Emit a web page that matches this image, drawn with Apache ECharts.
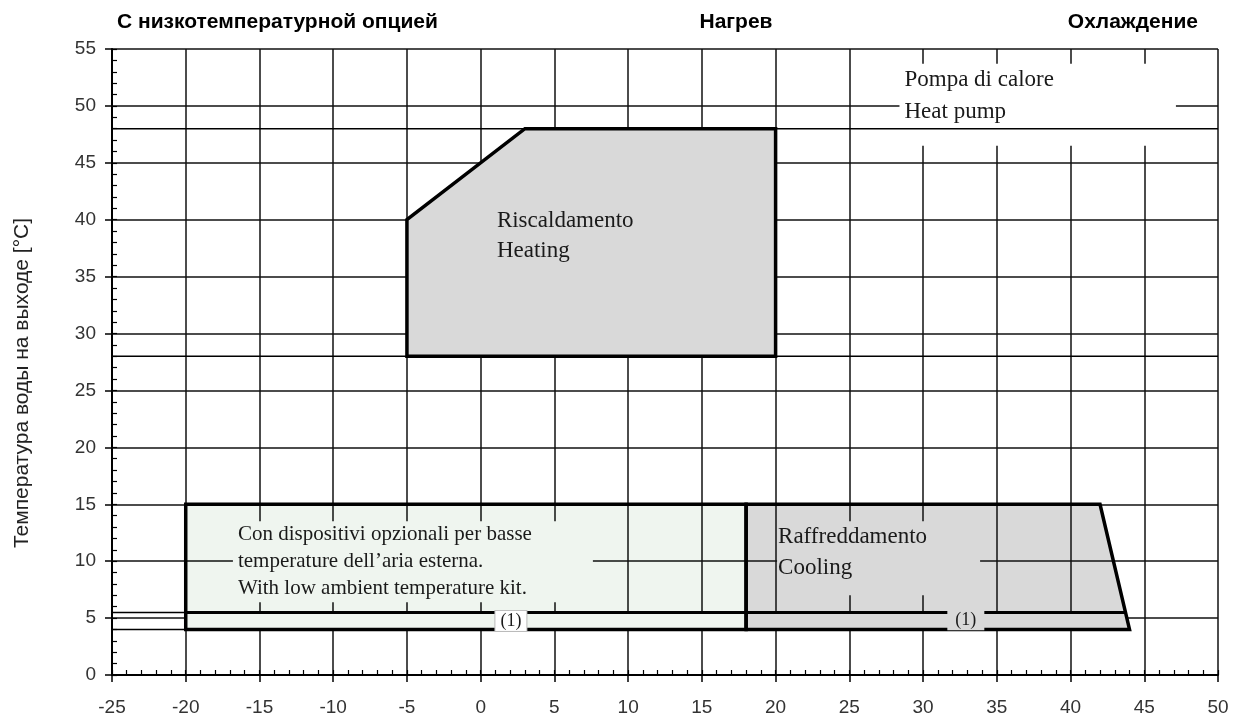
<!DOCTYPE html>
<html>
<head>
<meta charset="utf-8">
<title>Рабочий диапазон теплового насоса</title>
<script src="https://cdn.jsdelivr.net/npm/echarts@6/dist/echarts.min.js"></script>
<style>
  html, body { margin: 0; padding: 0; background: #fff; }
  #chart { width: 1234px; height: 720px; }
</style>
</head>
<body>
<div id="chart"></div>
<script>
// оси: наружная температура (x) и температура воды (y)
const xRange = [-25, 50]
const yRange = [0, 55]
const majorStep = 5
const minorStep = 1

// зоны работы [t наружн., t воды]
const heatingZone = [[-5, 28], [-5, 40], [3, 48], [20, 48], [20, 28]]
const lowAmbientZone = [[-20, 4], [-20, 15], [18, 15], [18, 4]]
const coolingZone = [[18, 4], [18, 15], [42, 15], [44, 4]]

// полоса под линией (1)
const lowAmbientStrip = [[-20, 4], [-20, 5.5], [18, 5.5], [18, 4]]
const coolingStrip = [[18, 4], [18, 5.5], [43.7, 5.5], [44, 4]]

// линия (1) и продолжения границ
const limitLine = [[-20, 5.5], [43.7, 5.5]]
const limitStub = [[-25, 5.5], [-20, 5.5]]
const bottomStub = [[-25, 4], [-20, 4]]
const heatingLevels = [48, 28]

const topTitles = ['С низкотемпературной опцией', 'Нагрев', 'Охлаждение']
const yName = 'Температура воды на выходе [°C]'

const SANS = '"Liberation Sans", Arial, sans-serif'
const SERIF = '"Liberation Serif", "Times New Roman", serif'
const GREY = '#d9d9d9'
const PALE = '#eff5ef'

function zoneSeries (points, style, z) {
  return {
    type: 'custom',
    z: z,
    silent: true,
    data: points,
    renderItem: function (params, api) {
      if (params.dataIndex !== 0) return
      return {
        type: 'polygon',
        shape: { points: points.map(p => api.coord(p)) },
        style: style
      }
    }
  }
}

function lineSeries (points, width, z) {
  return {
    type: 'line',
    z: z,
    silent: true,
    symbol: 'none',
    data: points,
    lineStyle: { color: '#000', width: width }
  }
}

function noteSeries (point, text, label) {
  return {
    type: 'scatter',
    z: 4,
    silent: true,
    symbolSize: 0,
    itemStyle: { opacity: 1 },
    data: [point],
    label: Object.assign({
      show: true,
      opacity: 1,
      formatter: text,
      position: [0, 0],
      align: 'left',
      verticalAlign: 'top',
      fontFamily: SERIF,
      color: '#1a1a1a'
    }, label)
  }
}

const outline = { fill: 'none', stroke: '#000', lineWidth: 3.5, lineJoin: 'miter' }

const series = [
  zoneSeries(lowAmbientZone, { fill: PALE }, -1),
  zoneSeries(coolingZone, { fill: GREY }, -1),
  zoneSeries(heatingZone, { fill: GREY }, 2),
  zoneSeries(lowAmbientStrip, { fill: PALE }, 2),
  zoneSeries(coolingStrip, { fill: GREY }, 2),
  lineSeries(limitStub, 1.5, 3),
  lineSeries(bottomStub, 1.5, 3),
  lineSeries(limitLine, 3, 3),
  zoneSeries(lowAmbientZone, outline, 3),
  zoneSeries(coolingZone, outline, 3),
  zoneSeries(heatingZone, outline, 3)
]
heatingLevels.forEach(v => {
  series.push(lineSeries([[xRange[0], v], [xRange[1], v]], 1.5, 5))
})

series.push(
  noteSeries([28.4, 53.7], 'Pompa di calore\nHeat pump',
    { fontSize: 23, lineHeight: 32, backgroundColor: '#fff', padding: [0, 122, 18, 5] }),
  noteSeries([1.1, 41.2], 'Riscaldamento\nHeating',
    { fontSize: 23, lineHeight: 30 }),
  noteSeries([-16.8, 13.5], 'Con dispositivi opzionali per basse\ntemperature dell\u2019aria esterna.\nWith low ambient temperature kit.',
    { fontSize: 21, lineHeight: 27, backgroundColor: PALE, padding: [0, 61, 0, 5] }),
  noteSeries([20.1, 13.5], 'Raffreddamento\nCooling',
    { fontSize: 23, lineHeight: 31, backgroundColor: GREY, padding: [0, 53, 12, 1] }),
  noteSeries([2.05, 4.75], '(1)',
    { fontSize: 18, position: 'inside', align: 'center', verticalAlign: 'middle',
      backgroundColor: '#fff', borderColor: '#bbb', borderWidth: 1, padding: [1, 5] }),
  noteSeries([32.9, 4.8], '(1)',
    { fontSize: 18, position: 'inside', align: 'center', verticalAlign: 'middle',
      backgroundColor: GREY, padding: [1, 8] })
)

const gridLine = { show: true, lineStyle: { color: '#111', width: 1.5 } }

const option = {
  animation: false,
  grid: { left: 112, right: 16, top: 49, bottom: 45, containLabel: false, outerBoundsMode: 'none' },
  xAxis: [
    {
      type: 'value',
      min: xRange[0],
      max: xRange[1],
      interval: majorStep,
      position: 'bottom',
      axisLine: { show: true, onZero: false, lineStyle: { color: '#000', width: 2 } },
      axisTick: { show: true, inside: false, length: 7, lineStyle: { color: '#000', width: 1.5 } },
      axisLabel: { color: '#333', fontFamily: SANS, fontSize: 19, margin: 23 },
      splitLine: gridLine
    },
    {
      type: 'value',
      min: xRange[0],
      max: xRange[1],
      interval: minorStep,
      position: 'bottom',
      axisLine: { show: false, onZero: false },
      axisTick: { show: true, inside: true, length: 5, lineStyle: { color: '#000', width: 1.2 } },
      axisLabel: { show: false },
      splitLine: { show: false }
    }
  ],
  yAxis: [
    {
      type: 'value',
      min: yRange[0],
      max: yRange[1],
      interval: majorStep,
      position: 'left',
      axisLine: { show: true, onZero: false, lineStyle: { color: '#000', width: 2 } },
      axisTick: { show: true, inside: false, length: 7, lineStyle: { color: '#000', width: 1.5 } },
      axisLabel: { color: '#333', fontFamily: SANS, fontSize: 19, margin: 16 },
      splitLine: gridLine
    },
    {
      type: 'value',
      min: yRange[0],
      max: yRange[1],
      interval: minorStep,
      position: 'left',
      axisLine: { show: false, onZero: false },
      axisTick: { show: true, inside: true, length: 5, lineStyle: { color: '#000', width: 1.2 } },
      axisLabel: { show: false },
      splitLine: { show: false }
    }
  ],
  graphic: [
    { type: 'text', x: 117, y: 22, silent: true,
      style: { text: topTitles[0], font: 'bold 21px ' + SANS, fill: '#000', align: 'left', verticalAlign: 'middle' } },
    { type: 'text', x: 736, y: 22, silent: true,
      style: { text: topTitles[1], font: 'bold 21px ' + SANS, fill: '#000', align: 'center', verticalAlign: 'middle' } },
    { type: 'text', x: 1198, y: 22, silent: true,
      style: { text: topTitles[2], font: 'bold 21px ' + SANS, fill: '#000', align: 'right', verticalAlign: 'middle' } },
    { type: 'text', x: 22, y: 383, rotation: Math.PI / 2, silent: true,
      style: { text: yName, font: '21px ' + SANS, fill: '#222', align: 'center', verticalAlign: 'middle' } }
  ],
  series: series
}

const chart = echarts.init(document.getElementById('chart'))
chart.setOption(option)
window.addEventListener('resize', () => chart.resize())
</script>
</body>
</html>
